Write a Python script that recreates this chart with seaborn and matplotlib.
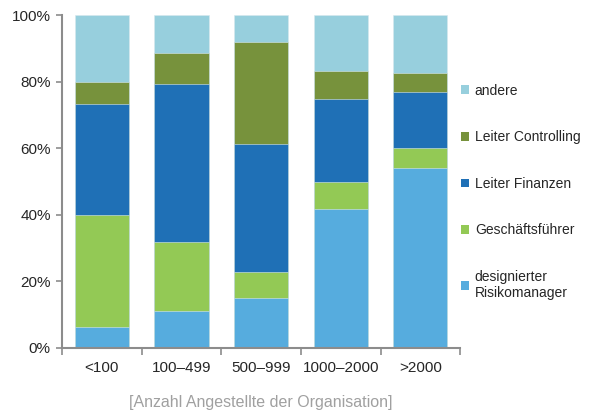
import seaborn as sns
import matplotlib.pyplot as plt
import pandas as pd
from matplotlib.patches import Patch
from matplotlib.ticker import PercentFormatter

categories = ['<100', '100–499', '500–999', '1000–2000', '>2000']
designierter = [6.4, 11.1, 15.1, 41.6, 54.1]
geschaeftsfuehrer = [33.6, 20.8, 7.8, 8.3, 5.9]
leiter_finanzen = [33.2, 47.3, 38.4, 25.0, 17.0]
leiter_controlling = [6.8, 9.5, 30.7, 8.4, 5.7]
andere = [20.0, 11.3, 8.0, 16.7, 17.3]

series = ['designierter\nRisikomanager', 'Geschäftsführer', 'Leiter Finanzen',
          'Leiter Controlling', 'andere']
colors = ['#56acde', '#93c955', '#1f70b6', '#77923c', '#97cfdd']

sns.set_style('white')
plt.rcParams['font.family'] = ['Liberation Sans', 'DejaVu Sans']

df = pd.DataFrame({'cat': categories,
                   series[0]: designierter,
                   series[1]: geschaeftsfuehrer,
                   series[2]: leiter_finanzen,
                   series[3]: leiter_controlling,
                   series[4]: andere})
cum = df[series].cumsum(axis=1)

fig = plt.figure(figsize=(5.9, 4.18), dpi=100)
ax = fig.add_axes([0.105, 0.1675, 0.675, 0.7965])

# draw tallest cumulative layer first so the lower ones cover it
for name, col in reversed(list(zip(series, colors))):
    sns.barplot(x=df['cat'], y=cum[name], color=col, width=0.68,
                saturation=1, edgecolor='#d8e8ee', linewidth=0.4, ax=ax)

ax.set_xlim(-0.5, 4.5)
ax.set_ylim(0, 100)
ax.set_yticks([0, 20, 40, 60, 80, 100])
ax.yaxis.set_major_formatter(PercentFormatter(decimals=0))
ax.set_ylabel('')
ax.set_xlabel('[Anzahl Angestellte der Organisation]', color='#a0a0a0',
              fontsize=11.5)
ax.xaxis.set_label_coords(0.5, -0.14)

for s in ['top', 'right']:
    ax.spines[s].set_visible(False)
for s in ['left', 'bottom']:
    ax.spines[s].set_color('#8c8c8c')
    ax.spines[s].set_linewidth(1.5)

ax.tick_params(axis='y', which='major', left=True, length=4, width=1.2,
               color='#8c8c8c', labelsize=11, pad=4)
ax.tick_params(axis='x', which='major', bottom=False, labelsize=11, pad=6)
ax.set_xticks([-0.5, 0.5, 1.5, 2.5, 3.5, 4.5], minor=True)
ax.tick_params(axis='x', which='minor', bottom=True, length=5, width=1.2,
               color='#8c8c8c')

handles = [Patch(facecolor=c, edgecolor='none') for c in colors]
ax.legend(handles[::-1], series[::-1], loc='upper left',
          bbox_to_anchor=(0.76, 0.83), bbox_transform=fig.transFigure,
          frameon=False, fontsize=10, handlelength=0.6, handleheight=0.6,
          handletextpad=0.4, labelspacing=2.35)

fig.savefig('out.png', dpi=100)
